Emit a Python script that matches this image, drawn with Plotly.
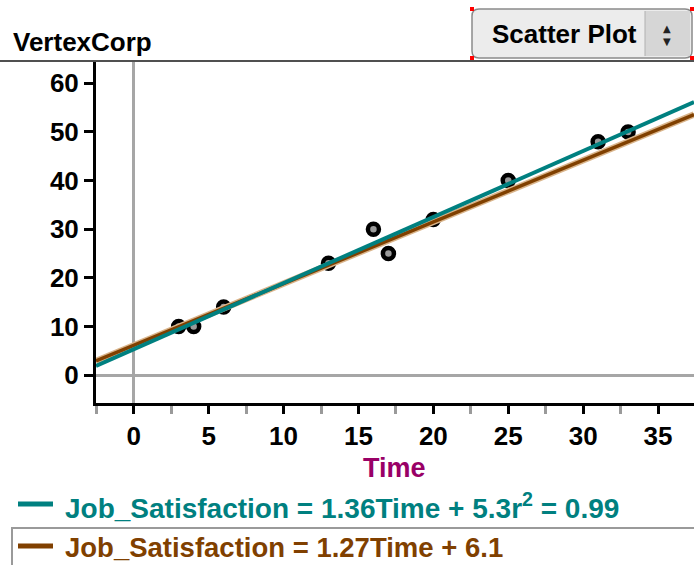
import plotly.graph_objects as go

# ---- data ----
time = [3, 4, 6, 13, 16, 17, 20, 25, 31, 33]
job_satisfaction = [10, 10, 14, 23, 30, 25, 32, 40, 48, 50]
fit_slope, fit_intercept = 1.36, 5.3
alt_slope, alt_intercept = 1.27, 6.1
r_squared = 0.99
x_ticks = [0, 5, 10, 15, 20, 25, 30, 35]
y_ticks = [0, 10, 20, 30, 40, 50, 60]
title_text = "VertexCorp"
x_title = "Time"
y_name = "Job_Satisfaction"
menu_text = "Scatter Plot"

# ---- layout geometry ----
W, H = 694, 565
L, R, T, B = 96, 0, 62, 162
PW, PH = W - L - R, H - T - B
x_range = [-2.52, 37.4]
y_range = [-5.76, 64.4]


def X(px):
    return (px - L) / PW


def Y(py):
    return (H - B - py) / PH


TEAL = "#008080"
BROWN = "#804000"
TAN = "#d9b48a"
FONT = "Liberation Sans"

fig = go.Figure()

# data points
fig.add_trace(go.Scatter(
    x=time, y=job_satisfaction, mode="markers",
    marker=dict(size=11, color="#9a9a9a", line=dict(color="black", width=4.5)),
    hoverinfo="x+y", showlegend=False))

# regression lines across the visible axis range
xs = x_range
fig.add_trace(go.Scatter(
    x=xs, y=[alt_slope * v + alt_intercept for v in xs], mode="lines",
    line=dict(color=TAN, width=6.5), hoverinfo="skip", showlegend=False))
fig.add_trace(go.Scatter(
    x=xs, y=[alt_slope * v + alt_intercept for v in xs], mode="lines",
    line=dict(color=BROWN, width=3.5), hoverinfo="skip", showlegend=False))
fig.add_trace(go.Scatter(
    x=xs, y=[fit_slope * v + fit_intercept for v in xs], mode="lines",
    line=dict(color=TEAL, width=4), hoverinfo="skip", showlegend=False))

fig.update_layout(
    width=W, height=H,
    margin=dict(l=L, r=R, t=T, b=B, pad=0),
    paper_bgcolor="white", plot_bgcolor="white",
    font=dict(family=FONT, color="black"),
    xaxis=dict(
        range=x_range, tickmode="array", tickvals=x_ticks,
        ticktext=[str(v) for v in x_ticks],
        showgrid=False, zeroline=True, zerolinecolor="#a6a6a6", zerolinewidth=3,
        showline=True, linecolor="black", linewidth=3,
        ticks="outside", ticklen=8, tickwidth=2.5, tickcolor="black",
        ticklabelstandoff=0,
        tickfont=dict(family=FONT, size=26, color="black", weight="bold"),
        minor=dict(ticks="outside", ticklen=8, tickwidth=2.5, tickcolor="#9a9a9a",
                   tick0=2.5, dtick=5, showgrid=False),
        fixedrange=True,
    ),
    yaxis=dict(
        range=y_range, tickmode="array", tickvals=y_ticks,
        ticktext=[str(v) for v in y_ticks],
        showgrid=False, zeroline=True, zerolinecolor="#a6a6a6", zerolinewidth=3,
        showline=True, linecolor="black", linewidth=3,
        ticks="outside", ticklen=9, tickwidth=2.5, tickcolor="black",
        ticklabelstandoff=0,
        tickfont=dict(family=FONT, size=26, color="black", weight="bold"),
        fixedrange=True,
    ),
    showlegend=False,
)

shapes = []
annotations = []

# top separator
shapes.append(dict(type="line", xref="paper", yref="paper",
                   x0=X(0), x1=X(W), y0=Y(61), y1=Y(61),
                   line=dict(color="#505050", width=2)))

# title
annotations.append(dict(text=title_text, xref="paper", yref="paper",
                        x=X(11), y=Y(42), xanchor="left", yanchor="middle",
                        showarrow=False,
                        font=dict(family=FONT, size=26, color="black", weight="bold")))

# menu button
bx0, bx1, by0, by1 = 472, 692, 9, 58
r = 7
path = (f"M {X(bx0 + r)} {Y(by0)} L {X(bx1 - r)} {Y(by0)} "
        f"Q {X(bx1)} {Y(by0)} {X(bx1)} {Y(by0 + r)} L {X(bx1)} {Y(by1 - r)} "
        f"Q {X(bx1)} {Y(by1)} {X(bx1 - r)} {Y(by1)} L {X(bx0 + r)} {Y(by1)} "
        f"Q {X(bx0)} {Y(by1)} {X(bx0)} {Y(by1 - r)} L {X(bx0)} {Y(by0 + r)} "
        f"Q {X(bx0)} {Y(by0)} {X(bx0 + r)} {Y(by0)} Z")
shapes.append(dict(type="path", xref="paper", yref="paper", path=path,
                   fillcolor="#ececec", line=dict(color="#8a8a8a", width=1.5)))
shapes.append(dict(type="rect", xref="paper", yref="paper",
                   x0=X(645), x1=X(bx1 - 2), y0=Y(by0 + 2), y1=Y(by1 - 2),
                   fillcolor="#d6d6d6", line=dict(width=0)))
shapes.append(dict(type="line", xref="paper", yref="paper",
                   x0=X(645), x1=X(645), y0=Y(by0 + 2), y1=Y(by1 - 2),
                   line=dict(color="#b0b0b0", width=1)))
for cx, cy in [(bx0, by0), (bx1, by0), (bx0, by1), (bx1, by1)]:
    shapes.append(dict(type="rect", xref="paper", yref="paper",
                       x0=X(cx - 2), x1=X(cx + 2), y0=Y(cy - 2), y1=Y(cy + 2),
                       fillcolor="red", line=dict(width=0)))
annotations.append(dict(text=menu_text, xref="paper", yref="paper",
                        x=X(564), y=Y(34), xanchor="center", yanchor="middle",
                        showarrow=False,
                        font=dict(family=FONT, size=26, color="black", weight="bold")))
annotations.append(dict(text="▲", xref="paper", yref="paper",
                        x=X(667), y=Y(28), xanchor="center", yanchor="middle",
                        showarrow=False, font=dict(family="DejaVu Sans", size=10, color="#222")))
annotations.append(dict(text="▼", xref="paper", yref="paper",
                        x=X(667), y=Y(41), xanchor="center", yanchor="middle",
                        showarrow=False, font=dict(family="DejaVu Sans", size=10, color="#222")))

# x axis title
annotations.append(dict(text=x_title, xref="paper", yref="paper",
                        x=X(394), y=Y(468), xanchor="center", yanchor="middle",
                        showarrow=False,
                        font=dict(family=FONT, size=27, color="#990066", weight="bold")))

# equations
shapes.append(dict(type="line", xref="paper", yref="paper",
                   x0=X(18), x1=X(53), y0=Y(504), y1=Y(504),
                   line=dict(color=TEAL, width=5)))
annotations.append(dict(
    text=f"{y_name} = {fit_slope:.2f}{x_title} + {fit_intercept:.1f}r<sup>2</sup> = {r_squared:.2f}",
    xref="paper", yref="paper", x=X(63), y=Y(506), xanchor="left", yanchor="middle",
    showarrow=False, font=dict(family=FONT, size=28, color=TEAL, weight="bold")))

shapes.append(dict(type="rect", xref="paper", yref="paper",
                   x0=X(12), x1=X(W + 10), y0=Y(528), y1=Y(H + 10),
                   line=dict(color="#9a9a9a", width=2), fillcolor="rgba(0,0,0,0)"))
shapes.append(dict(type="line", xref="paper", yref="paper",
                   x0=X(18), x1=X(53), y0=Y(546), y1=Y(546),
                   line=dict(color=BROWN, width=5)))
annotations.append(dict(
    text=f"{y_name} = {alt_slope:.2f}{x_title} + {alt_intercept:.1f}",
    xref="paper", yref="paper", x=X(63), y=Y(547), xanchor="left", yanchor="middle",
    showarrow=False, font=dict(family=FONT, size=27.5, color=BROWN, weight="bold")))

fig.update_layout(shapes=shapes, annotations=annotations)

fig.write_html("out.html", config={"displayModeBar": False})

# remove the default page margin so the figure sits at the window origin
with open("out.html", "r", encoding="utf-8") as f:
    html = f.read()
html = html.replace("<head>", "<head><style>html,body{margin:0;padding:0;overflow:hidden;}</style>", 1)
with open("out.html", "w", encoding="utf-8") as f:
    f.write(html)
